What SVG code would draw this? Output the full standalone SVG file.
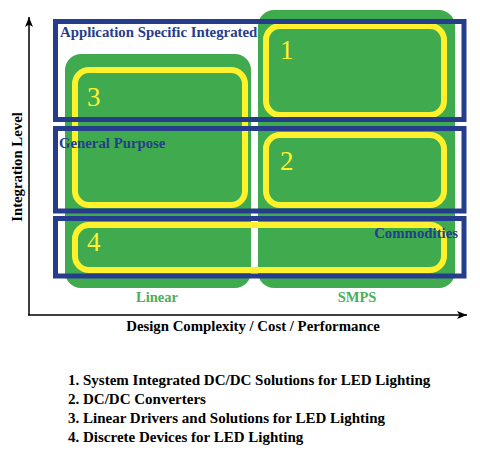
<svg xmlns="http://www.w3.org/2000/svg" width="480" height="453" viewBox="0 0 480 453">
<style>
text{font-family:'Liberation Serif','Times New Roman',serif;font-weight:bold}
.g{fill:#3fab4e}
.y{fill:none;stroke:#fff22d;stroke-width:6}
.b{fill:none;stroke:#263d8b;stroke-width:5}
.num{fill:#fff22d;font-size:27px;font-weight:normal}
.bl{fill:#263d8b;font-size:14.8px}
.gl{fill:#4cae5a;font-size:14.5px}
.ax{fill:#000;font-size:14.8px}
.lg{fill:#000;font-size:15px}
</style>
<defs>
<marker id="arr" viewBox="0 0 10 8" refX="10" refY="4" markerWidth="10" markerHeight="8" markerUnits="userSpaceOnUse" orient="auto">
<path d="M0,0 L10,4 L0,8 L2.5,4 Z" fill="#000"/>
</marker>
</defs>
<g id="blocks">
<rect id="linear-block" class="g" x="65" y="54" width="186" height="234" rx="16"/>
<rect id="smps-block" class="g" x="258" y="10" width="197" height="278" rx="16"/>
</g>
<g id="node-3"><rect class="y" x="75" y="70" width="170" height="135" rx="14"/><text class="num" x="87" y="106">3</text></g>
<g id="node-1"><rect class="y" x="266" y="26" width="178" height="89" rx="14"/><text class="num" x="280" y="59">1</text></g>
<g id="node-2"><rect class="y" x="266" y="135" width="178" height="70" rx="14"/><text class="num" x="280" y="170">2</text></g>
<g id="node-4"><rect class="y" x="75" y="225" width="369" height="45" rx="14"/><text class="num" x="87" y="251">4</text></g>
<g id="band-asic"><rect class="b" x="55.5" y="21.5" width="408.5" height="98"/><text class="bl" x="60" y="37">Application Specific Integrated</text></g>
<g id="band-general"><rect class="b" x="55.5" y="128.5" width="408.5" height="82.5"/><text class="bl" x="59" y="148">General Purpose</text></g>
<g id="band-commodities"><rect class="b" x="55.5" y="218.5" width="408.5" height="57.5"/><text class="bl" x="458" y="238" text-anchor="end">Commodities</text></g>
<g id="col-labels">
<text class="gl" x="157" y="302" text-anchor="middle">Linear</text>
<text class="gl" x="357" y="302" text-anchor="middle">SMPS</text>
</g>
<g id="connectors">
<line x1="29" y1="315" x2="29" y2="17" stroke="#000" stroke-width="1.5" marker-end="url(#arr)"/>
<line x1="28" y1="315" x2="467" y2="315" stroke="#000" stroke-width="1.5" marker-end="url(#arr)"/>
</g>
<text class="ax" transform="translate(22,167) rotate(-90)" text-anchor="middle">Integration Level</text>
<text class="ax" x="253" y="331" text-anchor="middle">Design Complexity / Cost / Performance</text>
<g id="legend">
<text class="lg" x="68" y="385">1. System Integrated DC/DC Solutions for LED Lighting</text>
<text class="lg" x="68" y="404">2. DC/DC Converters</text>
<text class="lg" x="68" y="423">3. Linear Drivers and Solutions for LED Lighting</text>
<text class="lg" x="68" y="442">4. Discrete Devices for LED Lighting</text>
</g>
</svg>
